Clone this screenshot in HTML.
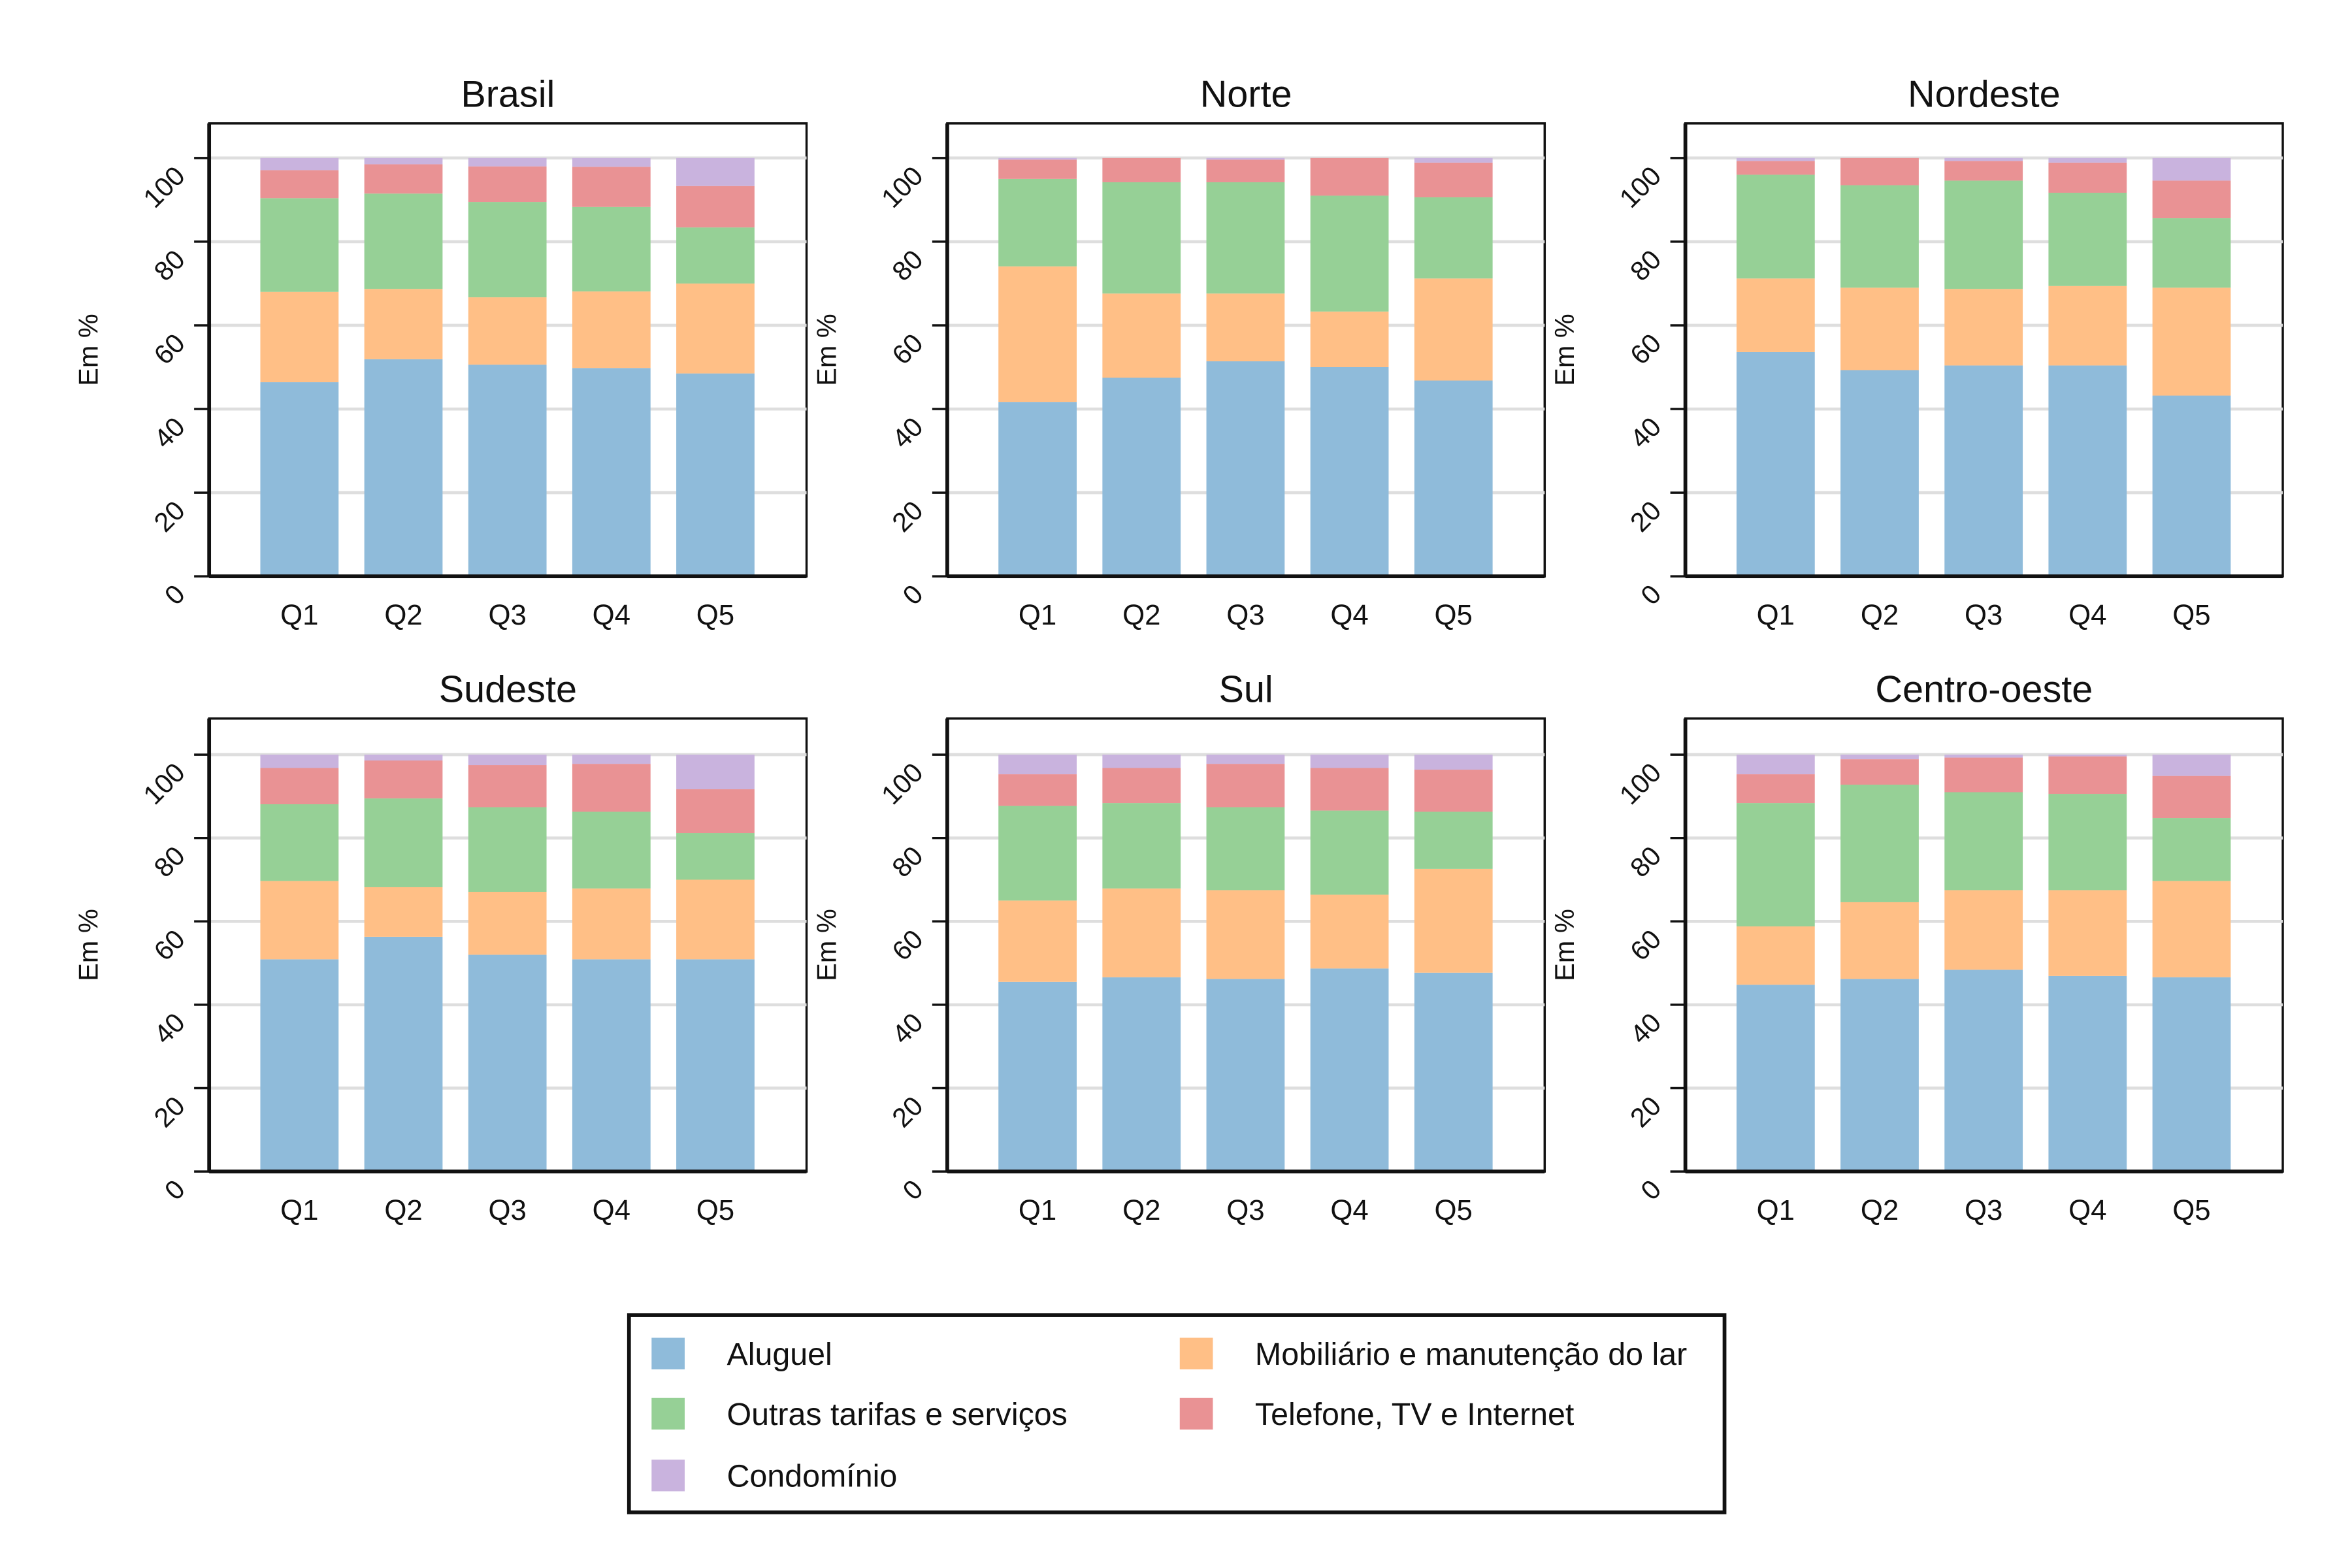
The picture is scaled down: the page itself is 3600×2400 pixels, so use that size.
<!DOCTYPE html>
<html><head><meta charset="utf-8"><style>
html,body{margin:0;padding:0;background:#fff;}
svg{display:block;}
text{font-family:"Liberation Sans Narrow","Liberation Sans",sans-serif;fill:#111;}
</style></head><body>
<svg id="chart" width="3600" height="2400" viewBox="0 0 1563 1042" preserveAspectRatio="none" xmlns="http://www.w3.org/2000/svg"></svg>
<script>
const categories = ["Q1","Q2","Q3","Q4","Q5"];
const regions = ["Brasil","Norte","Nordeste","Sudeste","Sul","Centro-oeste"];
const seriesNames = ["Aluguel","Mobiliário e manutenção do lar","Outras tarifas e serviços","Telefone, TV e Internet","Condomínio"];
const yTicks = [0,20,40,60,80,100];
const brasilVals = [[46.4,51.9,50.6,49.8,48.5],[21.6,16.8,16.1,18.3,21.5],[22.4,22.8,22.8,20.2,13.4],[6.7,7.0,8.5,9.6,9.9],[2.9,1.5,2.0,2.1,6.7]];
const norteVals = [[41.7,47.5,51.4,50,46.8],[32.4,20.1,16.2,13.3,24.4],[20.9,26.6,26.6,27.7,19.4],[4.6,5.8,5.4,9,8.3],[0.4,0,0.4,0,1.1]];
const nordesteVals = [[53.6,49.3,50.4,50.4,43.2],[17.6,19.7,18.3,19,25.8],[24.8,24.5,25.9,22.3,16.6],[3.3,6.5,4.7,7.2,9],[0.7,0,0.7,1.1,5.4]];
const sudesteVals = [[50.9,56.3,52,50.9,50.9],[18.8,11.9,15.1,17,19.1],[18.4,21.3,20.3,18.4,11.2],[8.7,9.1,10.1,11.5,10.5],[3.2,1.4,2.5,2.2,8.3]];
const sulVals = [[45.5,46.6,46.2,48.7,47.7],[19.5,21.3,21.3,17.7,24.9],[22.7,20.5,19.9,20.2,13.7],[7.6,8.4,10.4,10.2,10.1],[4.7,3.2,2.2,3.2,3.6]];
const coVals = [[44.8,46.2,48.4,46.9,46.6],[14,18.4,19.1,20.6,23.1],[29.6,28.2,23.5,23.1,15.1],[6.9,6.1,8.3,9,10.1],[4.7,1.1,0.7,0.4,5.1]];
const allVals = [brasilVals,norteVals,nordesteVals,sudesteVals,sulVals,coVals];
const colors = ["#8fbbda","#ffbf86","#96d096","#e99294","#c9b3de"];

const NS="http://www.w3.org/2000/svg";
const svg=document.getElementById('chart');
function mk(tag,attrs,parent,txt){const e=document.createElementNS(NS,tag);for(const k in attrs)e.setAttribute(k,attrs[k]);if(txt!==undefined)e.textContent=txt;(parent||svg).appendChild(e);return e;}

regions.forEach((reg,ri)=>{
  const col=ri%3,row=Math.floor(ri/3);
  const x0=139+col*490.5, x1=x0+397;
  const yZero=row===0?383:778.5, yHundred=row===0?105:501.5;
  const yTop=row===0?82:477.5;
  const ys=v=>yZero-(v/100)*(yZero-yHundred);
  const xc=i=>x0+60+i*69.1;
  const g=mk('g',{});
  
  
  const t=mk('text',{x:(x0+x1)/2,y:yTop-11,'text-anchor':'middle','font-size':25},g,reg);
  
  
  mk('rect',{x:x0,y:yTop,width:397,height:yZero-yTop,fill:'none',stroke:'#111','stroke-width':1.5},g);
  yTicks.forEach(v=>{
    const y=ys(v);
    if(v>0){const gl=mk('line',{x1:x0,x2:x1,y1:y,y2:y,stroke:'#dedede','stroke-width':2},g);
      
      }
    mk('line',{x1:x0-10,x2:x0,y1:y,y2:y,stroke:'#111','stroke-width':1.5},g);
    const tl=mk('text',{x:x0-15,y:y+13,'text-anchor':'end','font-size':18,transform:`rotate(-45 ${x0-15} ${y+13})`,fill:'#333'},g,String(v));
    
    
  });
  const yl=mk('text',{x:x0-74,y:(yTop+yZero)/2,'text-anchor':'middle','font-size':18,transform:`rotate(-90 ${x0-74} ${(yTop+yZero)/2})`},g,'Em %');
  
  
  const vals=allVals[ri];
  categories.forEach((c,i)=>{
    let cum=0;
    vals.forEach((s,si)=>{
      const v=s[i]; if(v<=0){return;}
      const b=mk('rect',{x:xc(i)-26,y:ys(cum+v),width:52,height:ys(cum)-ys(cum+v),fill:colors[si]},g);
      
      
      cum+=v;
    });
    const xl=mk('text',{x:xc(i),y:yZero+32,'text-anchor':'middle','font-size':19},g,c);
    
    
  });
  mk('line',{x1:x0,x2:x0,y1:yTop,y2:yZero,stroke:'#111','stroke-width':2.5},g);
  mk('line',{x1:x0,x2:x1,y1:yZero,y2:yZero,stroke:'#111','stroke-width':2.5},g);
});

const lg=mk('g',{});


mk('rect',{x:418,y:874,width:728,height:131,fill:'#fff',stroke:'#111','stroke-width':2.5},lg);
const legPos=[[433,889],[784,889],[433,929],[784,929],[433,970]];
const legOrder=[0,1,2,3,4];
legOrder.forEach((si,k)=>{
  const [lx,ly]=legPos[k];
  const e=mk('g',{},lg);
  
  
  mk('rect',{x:lx,y:ly,width:22,height:21,fill:colors[si]},e);
  mk('text',{x:lx+50,y:ly+18,'font-size':21},e,seriesNames[si]);
});
</script>
</body></html>
